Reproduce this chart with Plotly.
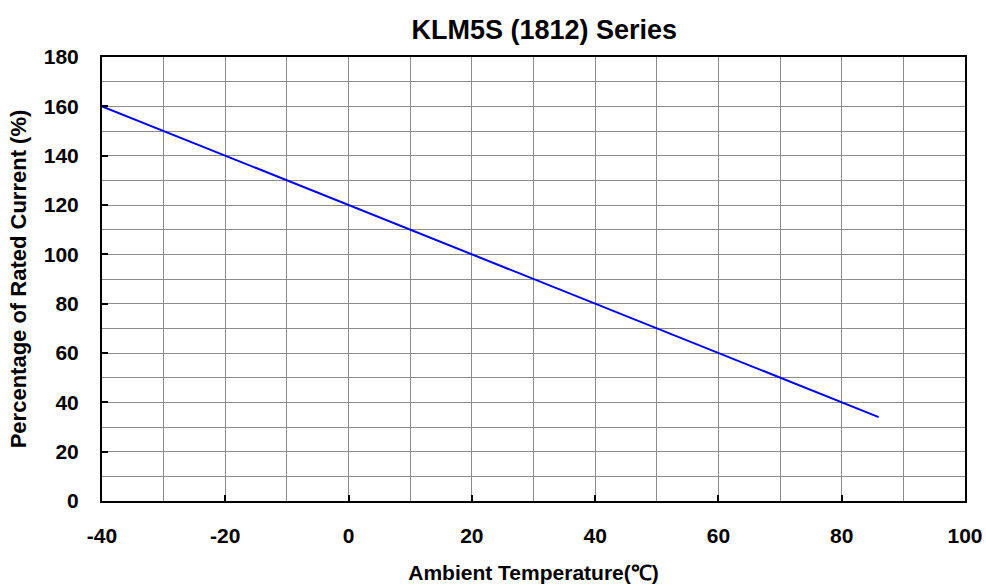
import plotly.graph_objects as go

temperature = [-40, 86]
percent_current = [160, 34]
x_ticks = [-40, -20, 0, 20, 40, 60, 80, 100]
y_ticks = [0, 20, 40, 60, 80, 100, 120, 140, 160, 180]

font_family = "Liberation Sans, Arial, sans-serif"

fig = go.Figure()
fig.add_trace(go.Scatter(x=temperature, y=percent_current, mode="lines",
                         line=dict(color="#0000FF", width=2), showlegend=False))

fig.update_layout(
    width=986, height=585,
    margin=dict(l=102, r=21, t=57, b=84),
    paper_bgcolor="white", plot_bgcolor="white",
    font=dict(family=font_family, size=16, color="black"),
    title=dict(text="<b>KLM5S (1812) Series</b>", x=0.552, xanchor="center",
               y=0.949, yanchor="middle", font=dict(size=27, color="black")),
)
fig.update_xaxes(
    range=[-40, 100], tickvals=x_ticks, ticktext=[str(v) for v in x_ticks],
    showgrid=True, gridcolor="#8c8c8c", gridwidth=1,
    minor=dict(dtick=10, tick0=-40, showgrid=True, gridcolor="#8c8c8c", gridwidth=1),
    showline=True, linecolor="black", linewidth=2, mirror=True,
    ticks="inside", ticklen=6, tickcolor="black", tickwidth=1.5,
    tickfont=dict(size=21, family=font_family, weight="bold"),
    ticklabelstandoff=15, zeroline=False, automargin=False,
    title=dict(text="<b>Ambient Temperature(℃)</b>", font=dict(size=21), standoff=19),
)
fig.update_yaxes(
    range=[0, 180], tickvals=y_ticks, ticktext=[str(v) for v in y_ticks],
    showgrid=True, gridcolor="#8c8c8c", gridwidth=1,
    minor=dict(dtick=10, tick0=0, showgrid=True, gridcolor="#8c8c8c", gridwidth=1),
    showline=True, linecolor="black", linewidth=2, mirror=True,
    ticks="inside", ticklen=6, tickcolor="black", tickwidth=1.5,
    tickfont=dict(size=21, family=font_family, weight="bold"),
    ticklabelstandoff=17, zeroline=False, automargin=False,
    title=dict(text="<b>Percentage of Rated Current (%)</b>", font=dict(size=22), standoff=11),
)

fig.write_html("out.html", config={"displayModeBar": False},
               post_script="document.body.style.margin='0';")
